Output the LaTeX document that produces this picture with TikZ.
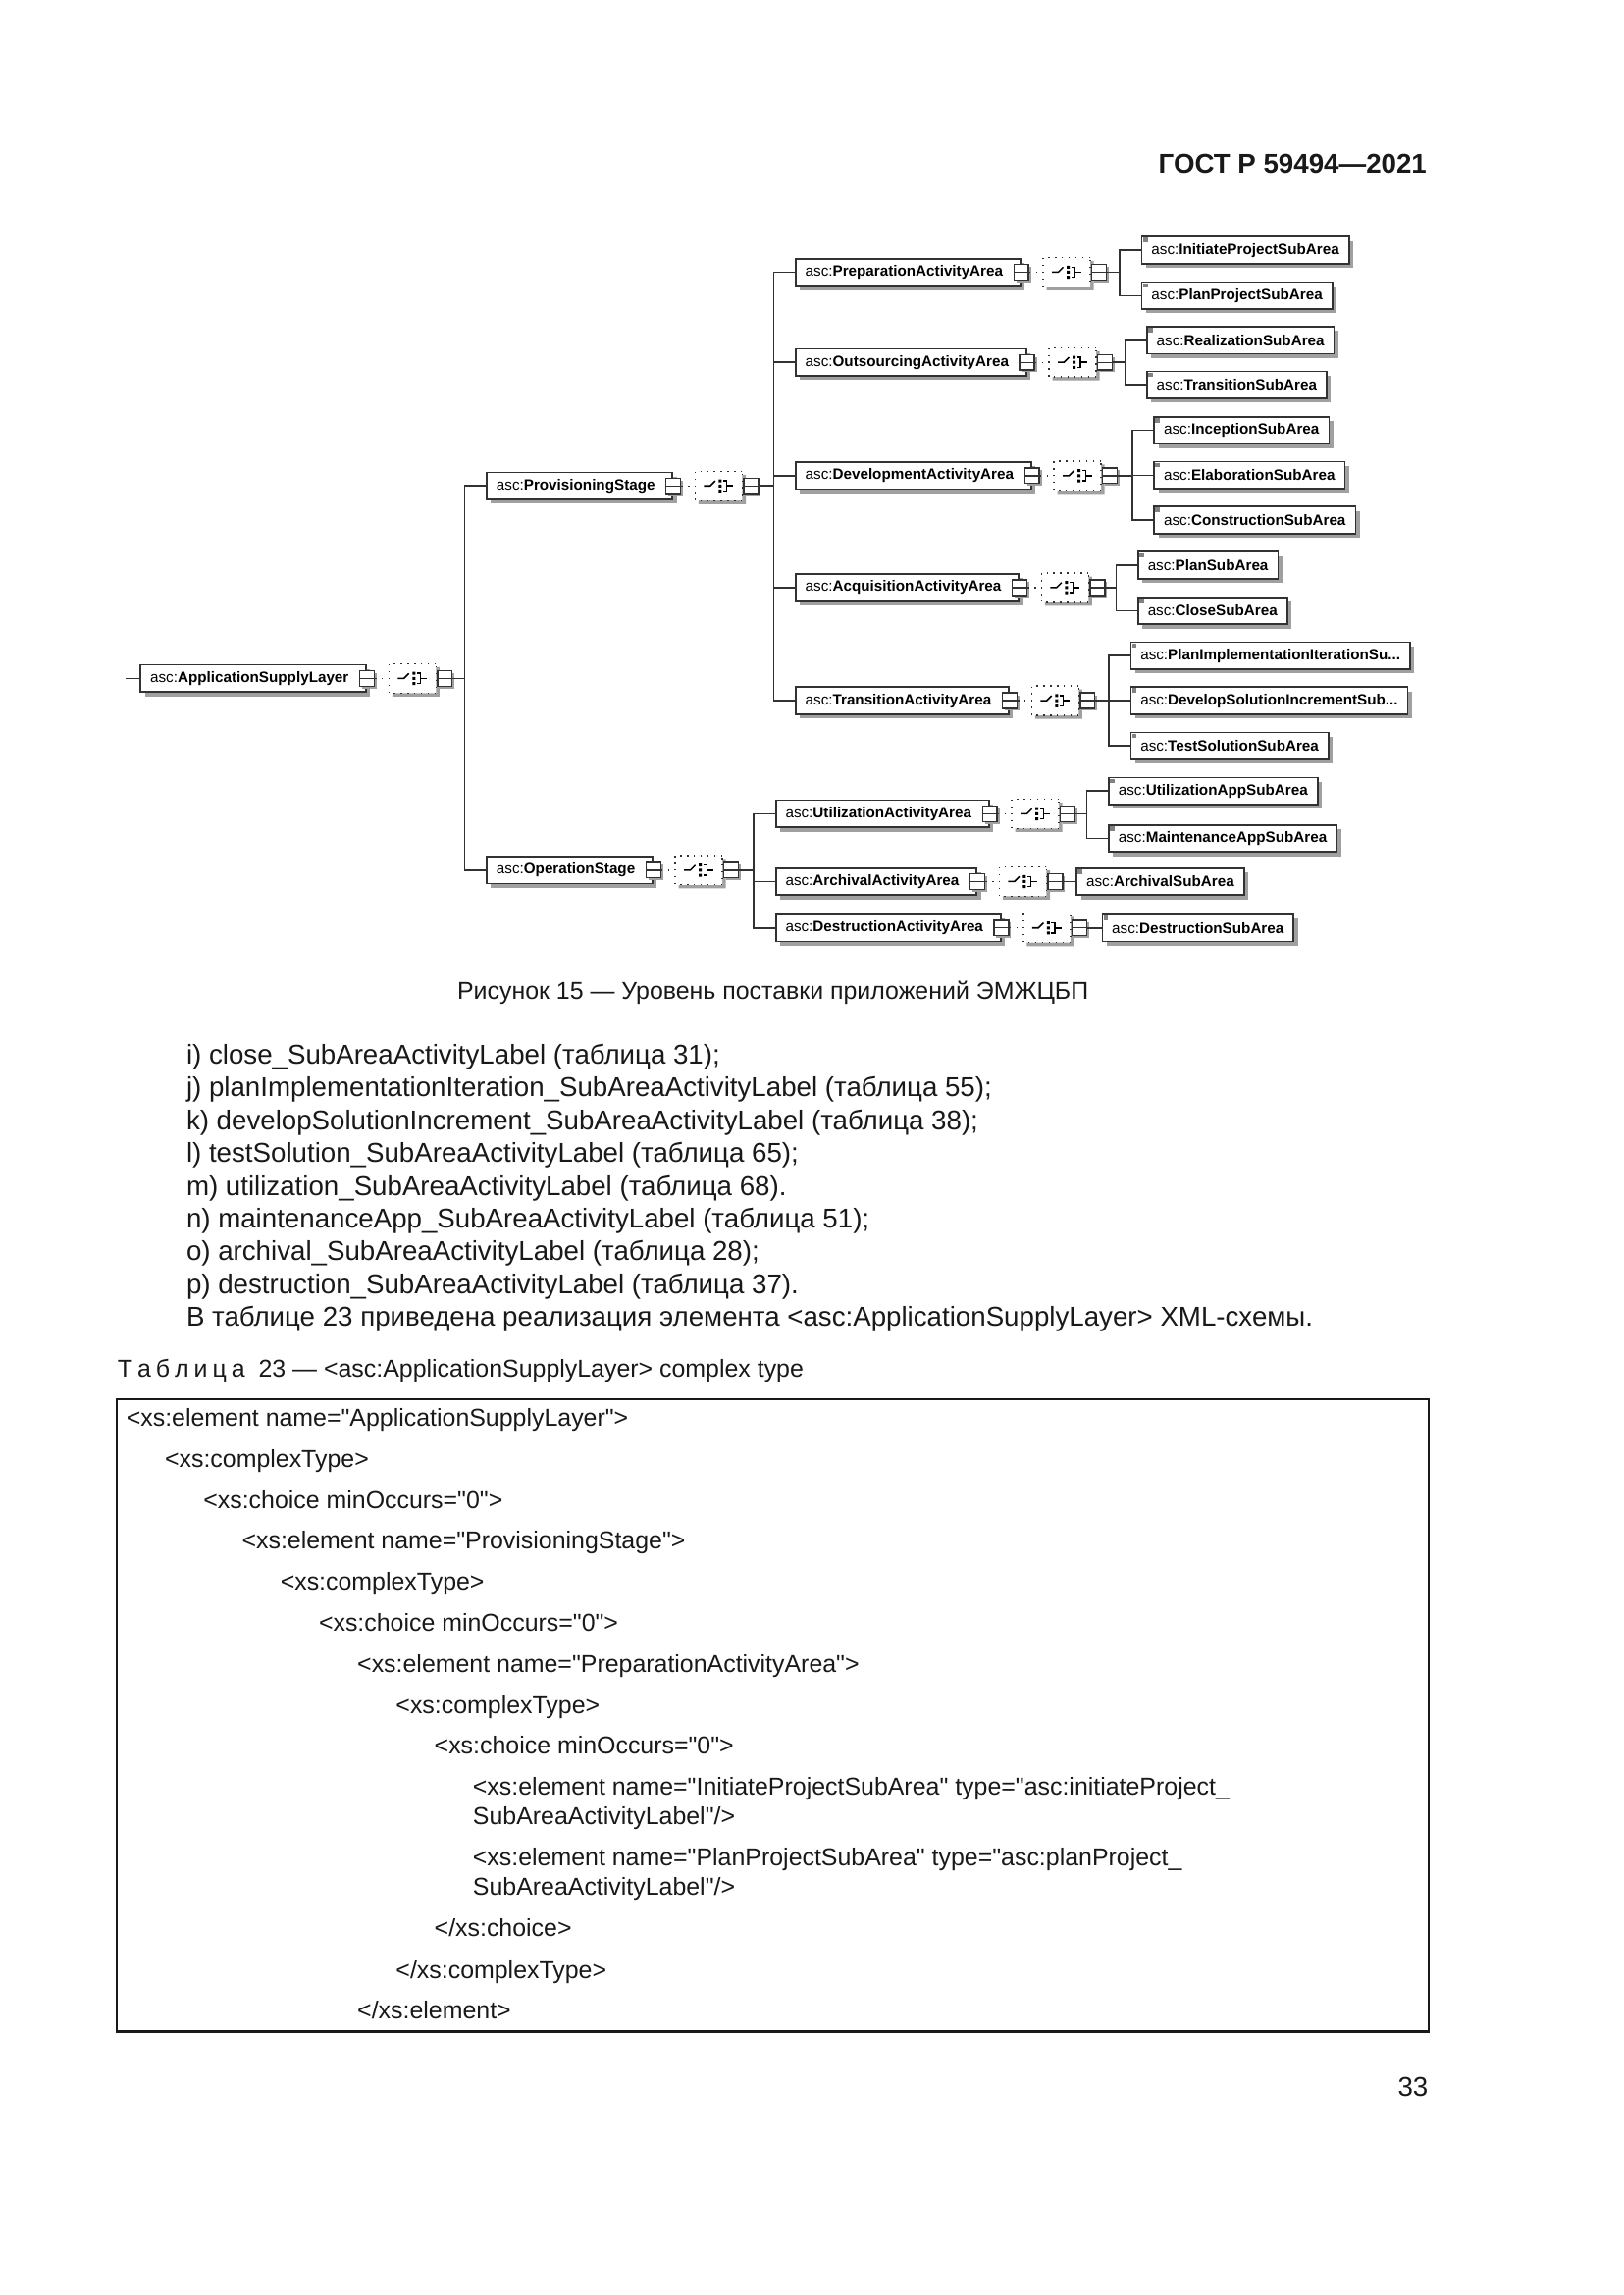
\documentclass[tikz,border=0pt]{standalone}
\usepackage{fontspec}
\setmainfont{Liberation Sans}[Ligatures=TeXOff]
\usepackage{tikz}
\usetikzlibrary{positioning, shapes.misc, shadows, calc}
\definecolor{xsdline}{RGB}{50,50,50}
\definecolor{xsdshade}{RGB}{160,160,160}
\definecolor{xsdmark}{RGB}{130,130,130}
\definecolor{pagetext}{RGB}{25,25,25}
\newcommand{\asc}[1]{asc:\textbf{#1}}
\newcommand{\choicegroup}[1]{%
  \node[fold] (#1-m) at (#1.east) {};
  \node[choice, right=1.7mm of #1-m] (#1-c) {};
  \node[fold, right=0pt of #1-c] (#1-s) {};
  \draw[dotwire] (#1-m) -- (#1-c);}
\tikzset{
  elem/.style={rectangle, draw=xsdline, fill=white, line width=0.6pt,
    minimum height=3.5mm, inner xsep=1.25mm, inner ysep=0pt, anchor=west,
    font=\fontsize{5.5}{6.5}\selectfont,
    general shadow={fill=xsdshade, shadow xshift=0.55mm, shadow yshift=-0.55mm}},
  parent/.style={elem, execute at end node={\hspace*{1mm}}},
  leaf/.style={elem, path picture={\fill[xsdmark]
    ([shift={(0.15mm,-0.15mm)}]path picture bounding box.north west)
    rectangle ++(0.6mm,-0.6mm);}},
  fold/.style={rectangle, draw=xsdline, fill=white, line width=0.55pt,
    minimum width=1.9mm, minimum height=2mm, inner sep=0pt,
    general shadow={fill=xsdshade, shadow xshift=0.3mm, shadow yshift=-0.3mm},
    path picture={\draw[xsdline, line width=0.5pt]
      (path picture bounding box.west) -- (path picture bounding box.east);}},
  choice/.style={chamfered rectangle, chamfered rectangle xsep=0.9mm,
    chamfered rectangle ysep=0.9mm, draw=xsdline, dotted, fill=white,
    line width=0.5pt, minimum width=6.1mm, minimum height=3.8mm, inner sep=0pt,
    general shadow={fill=xsdshade, shadow xshift=0.45mm, shadow yshift=-0.45mm},
    path picture={\begin{scope}[shift={(path picture bounding box.center)}, scale=1.15]
      \draw[solid, black, line width=0.55pt] (-1.9mm,0) -- (-1.1mm,0) -- (-0.45mm,0.65mm);
      \fill[black] (0,0.47mm) rectangle (0.38mm,0.85mm)
        (0,-0.19mm) rectangle (0.38mm,0.19mm)
        (0,-0.85mm) rectangle (0.38mm,-0.47mm);
      \draw[solid, black, line width=0.55pt] (0.57mm,0.66mm) -- (1.04mm,0.66mm)
        -- (1.04mm,-0.66mm) -- (0.57mm,-0.66mm) (1.04mm,0) -- (1.9mm,0);
    \end{scope}}},
  wire/.style={draw=xsdline, line width=0.6pt},
  dotwire/.style={draw=xsdline, line width=0.5pt, dotted},
  body/.style={font=\fontsize{10}{12}\selectfont, text=pagetext, anchor=base west, inner sep=0pt},
  code/.style={font=\fontsize{9}{10.5}\selectfont, text=pagetext, anchor=base west, inner sep=0pt},
}

\begin{document}
\begin{tikzpicture}[x=0.18936mm, y=-0.18936mm]
\useasboundingbox (0,0) rectangle (1109,1568);
\fill[white] (0,0) rectangle (1109,1568);

\node[body, font=\fontsize{10}{12}\selectfont\bfseries, anchor=base east] (gost) at (975,118.5) {ГОСТ Р 59494—2021};

% Root element and stages
\node[parent] (asl) at (95.5,463.5) {\asc{ApplicationSupplyLayer}};
\coordinate (asl-in) at (86,463.5);
\choicegroup{asl}
\node[parent] (prov) at (332,332) {\asc{ProvisioningStage}};
\node[parent] (oper) at (332,594.5) {\asc{OperationStage}};
\choicegroup{prov}
\choicegroup{oper}

% Activity areas
\node[parent] (prep) at (543,186) {\asc{PreparationActivityArea}};
\node[parent] (outs) at (543,247.5) {\asc{OutsourcingActivityArea}};
\node[parent] (devl) at (543,325) {\asc{DevelopmentActivityArea}};
\node[parent] (acqu) at (543,401.5) {\asc{AcquisitionActivityArea}};
\node[parent] (tran) at (543,478.7) {\asc{TransitionActivityArea}};
\node[parent] (util) at (529.5,556) {\asc{UtilizationActivityArea}};
\node[parent] (arch) at (529.5,602.3) {\asc{ArchivalActivityArea}};
\node[parent] (dest) at (529.5,634) {\asc{DestructionActivityArea}};
\choicegroup{prep}
\choicegroup{outs}
\choicegroup{devl}
\choicegroup{acqu}
\choicegroup{tran}
\choicegroup{util}
\choicegroup{arch}
\choicegroup{dest}

% Sub areas
\node[leaf] (init) at (779.5,171) {\asc{InitiateProjectSubArea}};
\node[leaf] (plpr) at (779.5,202) {\asc{PlanProjectSubArea}};
\node[leaf] (real) at (783,232.4) {\asc{RealizationSubArea}};
\node[leaf] (trsa) at (783,263) {\asc{TransitionSubArea}};
\node[leaf] (incp) at (788,294) {\asc{InceptionSubArea}};
\node[leaf] (elab) at (788,324.7) {\asc{ElaborationSubArea}};
\node[leaf] (cnst) at (788,355.3) {\asc{ConstructionSubArea}};
\node[leaf] (plan) at (777,386.2) {\asc{PlanSubArea}};
\node[leaf] (clos) at (777,417.3) {\asc{CloseSubArea}};
\node[leaf] (pimp) at (772,448) {\asc{PlanImplementationIterationSu...}};
\node[leaf] (dsol) at (772,478.7) {\asc{DevelopSolutionIncrementSub...}};
\node[leaf] (tsol) at (772,509.6) {\asc{TestSolutionSubArea}};
\node[leaf] (uapp) at (757,540.4) {\asc{UtilizationAppSubArea}};
\node[leaf] (mapp) at (757,572.8) {\asc{MaintenanceAppSubArea}};
\node[leaf] (arsa) at (735,602.3) {\asc{ArchivalSubArea}};
\node[leaf] (desa) at (752.5,634) {\asc{DestructionSubArea}};

% Bus lines
\coordinate (asl-b) at ($(prov.west |- asl-s.east)+(-2.75mm,0)$);
\coordinate (prov-b) at ($(prep.west |- prov-s.east)+(-2.75mm,0)$);
\coordinate (oper-b) at ($(util.west |- oper-s.east)+(-2.75mm,0)$);
\coordinate (prep-b) at ($(init.west |- prep-s.east)+(-2.75mm,0)$);
\coordinate (outs-b) at ($(real.west |- outs-s.east)+(-2.75mm,0)$);
\coordinate (devl-b) at ($(incp.west |- devl-s.east)+(-2.75mm,0)$);
\coordinate (acqu-b) at ($(plan.west |- acqu-s.east)+(-2.75mm,0)$);
\coordinate (tran-b) at ($(pimp.west |- tran-s.east)+(-2.75mm,0)$);
\coordinate (util-b) at ($(uapp.west |- util-s.east)+(-2.75mm,0)$);

\draw[wire] (asl-in) -- (asl.west);
\draw[wire] (asl-s.east) -- (asl-b) |- (prov.west) (asl-b) |- (oper.west);
\draw[wire] (prov-s.east) -- (prov-b) |- (prep.west) (prov-b) |- (outs.west)
  (prov-b) |- (devl.west) (prov-b) |- (acqu.west) (prov-b) |- (tran.west);
\draw[wire] (oper-s.east) -- (oper-b) |- (util.west) (oper-b) |- (arch.west)
  (oper-b) |- (dest.west);
\draw[wire] (prep-s.east) -- (prep-b) |- (init.west) (prep-b) |- (plpr.west);
\draw[wire] (outs-s.east) -- (outs-b) |- (real.west) (outs-b) |- (trsa.west);
\draw[wire] (devl-s.east) -- (devl-b) |- (incp.west) (devl-b) |- (elab.west)
  (devl-b) |- (cnst.west);
\draw[wire] (acqu-s.east) -- (acqu-b) |- (plan.west) (acqu-b) |- (clos.west);
\draw[wire] (tran-s.east) -- (tran-b) |- (pimp.west) (tran-b) |- (dsol.west)
  (tran-b) |- (tsol.west);
\draw[wire] (util-s.east) -- (util-b) |- (uapp.west) (util-b) |- (mapp.west);
\draw[wire] (arch-s.east) -- (arsa.west);
\draw[wire] (dest-s.east) -- (desa.west);

\node[body, font=\fontsize{9}{11}\selectfont, anchor=base] (fig) at (528,682.5) {Рисунок 15 — Уровень поставки приложений ЭМЖЦБП};

% List
\node[body] (itemi) at (127,727) {i) close\_SubAreaActivityLabel (таблица 31);};
\node[body] (itemj) at (127,749.4) {j) planImplementationIteration\_SubAreaActivityLabel (таблица 55);};
\node[body] (itemk) at (127,771.8) {k) developSolutionIncrement\_SubAreaActivityLabel (таблица 38);};
\node[body] (iteml) at (127,794.2) {l) testSolution\_SubAreaActivityLabel (таблица 65);};
\node[body] (itemm) at (127,816.6) {m) utilization\_SubAreaActivityLabel (таблица 68).};
\node[body] (itemn) at (127,839) {n) maintenanceApp\_SubAreaActivityLabel (таблица 51);};
\node[body] (itemo) at (127,861.4) {o) archival\_SubAreaActivityLabel (таблица 28);};
\node[body] (itemp) at (127,883.8) {p) destruction\_SubAreaActivityLabel (таблица 37).};
\node[body] (intro) at (127,906.2) {В таблице 23 приведена реализация элемента <asc:ApplicationSupplyLayer> XML-схемы.};

% Table 23
\node[code] (tabtitle) at (80,941) {Т\hspace{1.8pt}а\hspace{1.8pt}б\hspace{1.8pt}л\hspace{1.8pt}и\hspace{1.8pt}ц\hspace{1.8pt}а\hspace{5pt}23 — <asc:ApplicationSupplyLayer> complex type};
\draw[pagetext, line width=0.8pt] (80,956) rectangle (976,1388);
\node[code] (c1) at (86,974.5) {<xs:element name="ApplicationSupplyLayer">};
\node[code] (c2) at (112.3,1002.5) {<xs:complexType>};
\node[code] (c3) at (138.6,1030.5) {<xs:choice minOccurs="0">};
\node[code] (c4) at (164.9,1058.5) {<xs:element name="ProvisioningStage">};
\node[code] (c5) at (191.2,1086.5) {<xs:complexType>};
\node[code] (c6) at (217.5,1114.5) {<xs:choice minOccurs="0">};
\node[code] (c7) at (243.8,1142.5) {<xs:element name="PreparationActivityArea">};
\node[code] (c8) at (270.1,1170.5) {<xs:complexType>};
\node[code] (c9) at (296.4,1198.5) {<xs:choice minOccurs="0">};
\node[code] (c10) at (322.7,1226.5) {<xs:element name="InitiateProjectSubArea" type="asc:initiateProject\_};
\node[code] (c11) at (322.7,1246.5) {SubAreaActivityLabel"/>};
\node[code] (c12) at (322.7,1275) {<xs:element name="PlanProjectSubArea" type="asc:planProject\_};
\node[code] (c13) at (322.7,1295) {SubAreaActivityLabel"/>};
\node[code] (c14) at (296.4,1323) {</xs:choice>};
\node[code] (c15) at (270.1,1351.5) {</xs:complexType>};
\node[code] (c16) at (243.8,1379.5) {</xs:element>};

\node[body, anchor=base east] (pagenum) at (976,1432.5) {33};

\end{tikzpicture}
\end{document}
